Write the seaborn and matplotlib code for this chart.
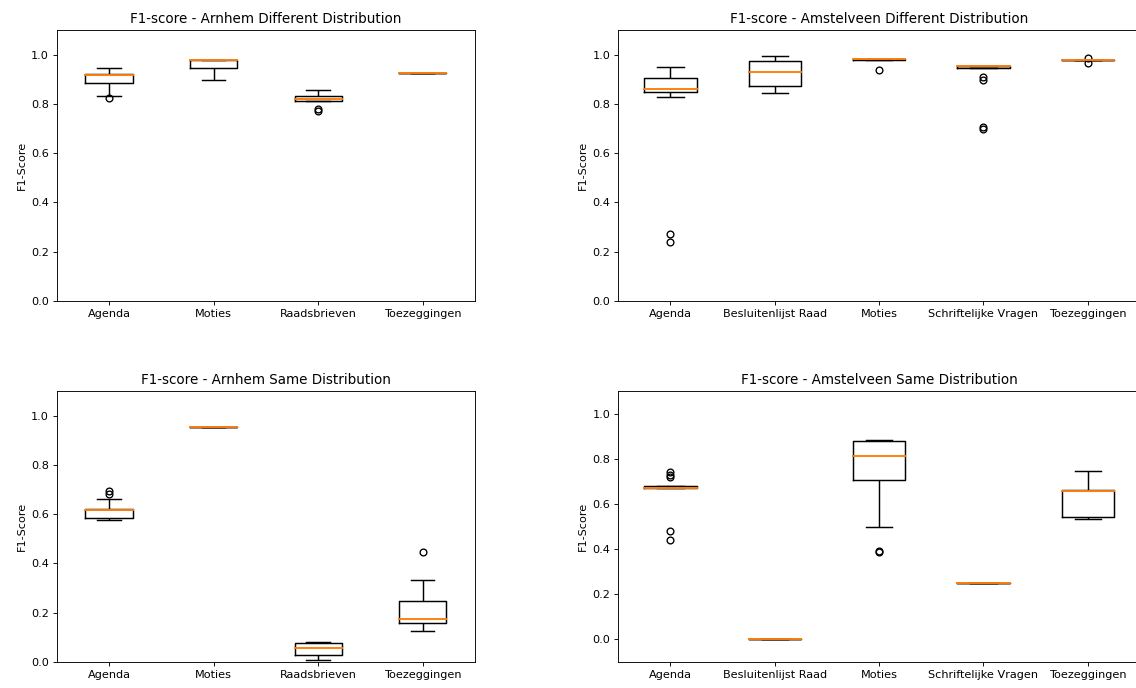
import matplotlib
matplotlib.use("Agg")
import matplotlib.pyplot as plt
import seaborn as sns
import pandas as pd

# F1 scores per document type
arnhem_cats = ["Agenda", "Moties", "Raadsbrieven", "Toezeggingen"]
amstelveen_cats = ["Agenda", "Besluitenlijst Raad", "Moties", "Schriftelijke Vragen", "Toezeggingen"]

arnhem_diff = {
    "Agenda": [0.826, 0.832, 0.885, 0.90, 0.917, 0.919, 0.921, 0.93, 0.944],
    "Moties": [0.898, 0.92, 0.944, 0.96, 0.98, 0.98, 0.98, 0.98, 0.98],
    "Raadsbrieven": [0.770, 0.781, 0.813, 0.815, 0.820, 0.826, 0.832, 0.845, 0.858],
    "Toezeggingen": [0.924, 0.924, 0.924, 0.924, 0.924],
}
amstelveen_diff = {
    "Agenda": [0.240, 0.272, 0.828, 0.847, 0.85, 0.855, 0.862, 0.87, 0.89, 0.904, 0.92, 0.94, 0.950],
    "Besluitenlijst Raad": [0.844, 0.86, 0.873, 0.90, 0.929, 0.95, 0.974, 0.985, 0.996],
    "Moties": [0.939, 0.978, 0.978, 0.98, 0.984, 0.984, 0.984, 0.984, 0.984],
    "Schriftelijke Vragen": [0.700, 0.708, 0.897, 0.911, 0.947, 0.947, 0.95, 0.952, 0.955,
                             0.955, 0.955, 0.955, 0.955, 0.955, 0.955, 0.955, 0.955],
    "Toezeggingen": [0.965, 0.98, 0.98, 0.98, 0.98, 0.98, 0.98, 0.98, 0.987],
}
arnhem_same = {
    "Agenda": [0.576, 0.58, 0.583, 0.586, 0.60, 0.61, 0.617, 0.618, 0.62, 0.621, 0.661, 0.683, 0.696],
    "Moties": [0.953, 0.953, 0.953, 0.953, 0.953],
    "Raadsbrieven": [0.009, 0.02, 0.030, 0.045, 0.055, 0.065, 0.076, 0.079, 0.081],
    "Toezeggingen": [0.126, 0.15, 0.157, 0.165, 0.175, 0.20, 0.247, 0.332, 0.445],
}
amstelveen_same = {
    "Agenda": [0.441, 0.482, 0.67, 0.67, 0.67, 0.67, 0.67, 0.67, 0.67, 0.675, 0.68,
               0.681, 0.681, 0.681, 0.72, 0.728, 0.74],
    "Besluitenlijst Raad": [0.0, 0.0, 0.0, 0.0, 0.0],
    "Moties": [0.385, 0.39, 0.50, 0.708, 0.74, 0.78, 0.814, 0.85, 0.87, 0.879, 0.88, 0.882, 0.884],
    "Schriftelijke Vragen": [0.251, 0.251, 0.251, 0.251, 0.251],
    "Toezeggingen": [0.534, 0.538, 0.542, 0.60, 0.659, 0.661, 0.663, 0.70, 0.747],
}

W, H = 1136, 688
DPI = 81
fig = plt.figure(figsize=(W / DPI, H / DPI), dpi=DPI)


def px_axes(left, top, right, bottom):
    return fig.add_axes([left / W, 1 - bottom / H, (right - left) / W, (bottom - top) / H])


def draw(ax, scores, cats, title, ylim, width):
    df = pd.DataFrame(
        [(c, v) for c in cats for v in scores[c]], columns=["doc", "f1"]
    )
    sns.boxplot(
        data=df, x="doc", y="f1", order=cats, ax=ax,
        fill=False, color="black", width=width, linewidth=1.3, whis=1.5,
        medianprops=dict(color="#ff7f0e", linewidth=1.7, zorder=5,
                         solid_capstyle="projecting"),
        flierprops=dict(marker="o", markersize=6, markerfacecolor="none",
                        markeredgecolor="black", markeredgewidth=1.2),
    )
    ax.set_xlim(-0.5, len(cats) - 0.5)
    ax.set_ylim(*ylim)
    ax.set_yticks([0.0, 0.2, 0.4, 0.6, 0.8, 1.0])
    ax.set_title(title, fontsize=12)
    ax.set_ylabel("F1-Score", fontsize=10)
    ax.set_xlabel("")
    ax.tick_params(labelsize=10)


ax1 = px_axes(56.7, 30, 475, 301)
draw(ax1, arnhem_diff, arnhem_cats, "F1-score - Arnhem Different Distribution", (0, 1.1), 0.45)
ax2 = px_axes(618.3, 30, 1140, 301)
draw(ax2, amstelveen_diff, amstelveen_cats, "F1-score - Amstelveen Different Distribution", (0, 1.1), 0.5)
ax3 = px_axes(56.7, 391, 475, 662)
draw(ax3, arnhem_same, arnhem_cats, "F1-score - Arnhem Same Distribution", (0, 1.1), 0.45)
ax4 = px_axes(618.3, 391, 1140, 662)
draw(ax4, amstelveen_same, amstelveen_cats, "F1-score - Amstelveen Same Distribution", (-0.1, 1.1), 0.5)

fig.savefig("out.png", dpi=DPI)
plt.close(fig)
